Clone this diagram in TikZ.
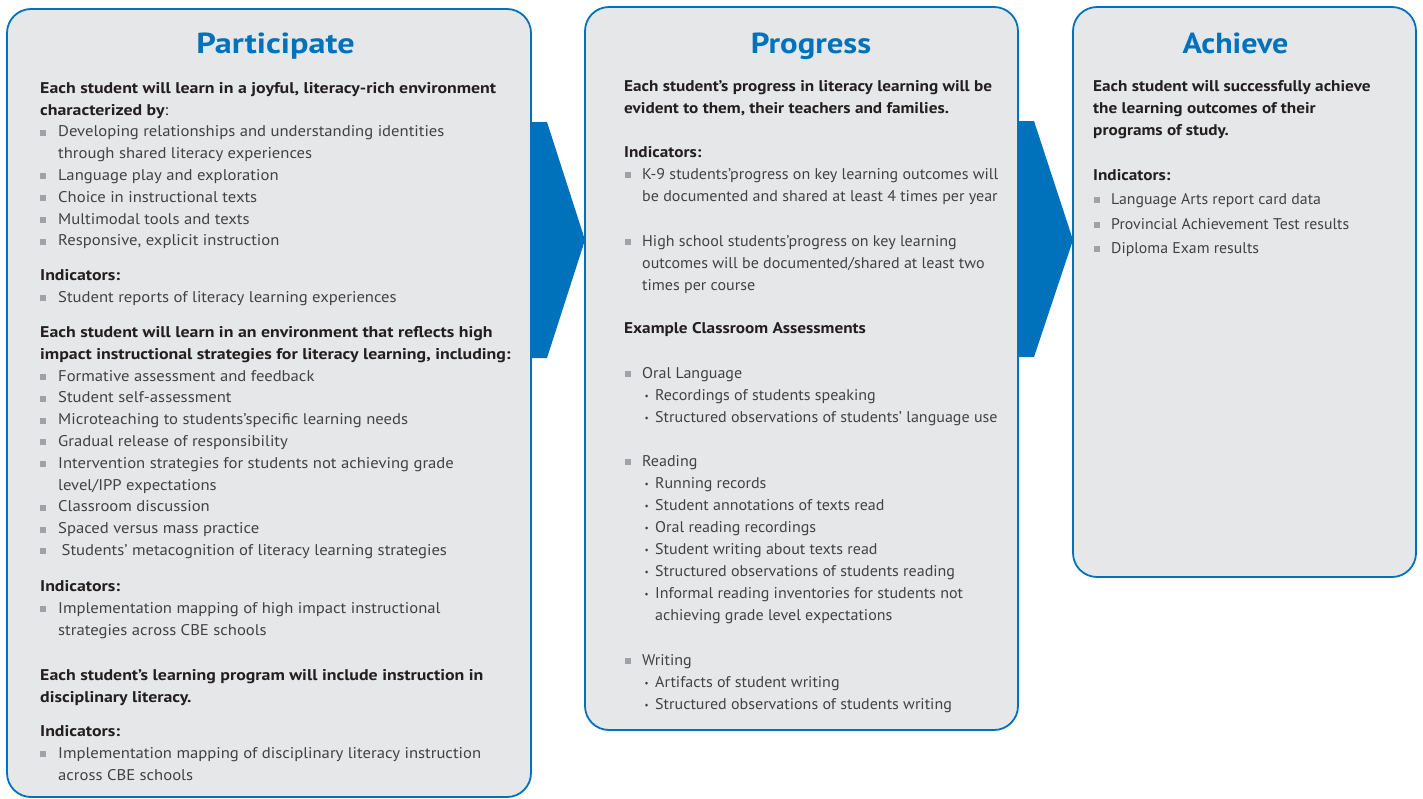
\documentclass[tikz,border=0pt]{standalone}
\usepackage{fontspec}
\setmainfont{PT Sans}
\newfontfamily\fAr{PT Sans}[FakeStretch=1.075]
\newfontfamily\fBr{PT Sans}[FakeStretch=1.035]
\newfontfamily\fCr{PT Sans}[FakeStretch=1.02]
\newfontfamily\fAb{PT Sans Bold}[FakeStretch=1.15]
\newfontfamily\fBb{PT Sans Bold}[FakeStretch=1.11]
\newfontfamily\fTa{PT Sans Bold}[FakeStretch=1.18]
\newfontfamily\fTb{PT Sans Bold}[FakeStretch=1.13]
\newfontfamily\fTc{PT Sans Bold}[FakeStretch=1.105]
\definecolor{cbeblue}{RGB}{0,114,188}
\definecolor{panelgray}{RGB}{230,231,232}
\definecolor{bodyc}{RGB}{66,66,68}
\definecolor{headc}{RGB}{35,31,32}
\definecolor{bulletgray}{RGB}{160,162,165}
\tikzset{
  panel/.style={draw=cbeblue, line width=1.8pt, fill=panelgray, rounded corners=24pt, inner sep=0pt, outer sep=0pt, anchor=north west},
  chev/.style={fill=cbeblue},
  ttl/.style={text=cbeblue, anchor=base, inner sep=0pt},
  hdA/.style={font=\fAb\fontsize{15.5}{18}\selectfont, text=headc, anchor=base west, inner sep=0pt},
  hdB/.style={font=\fBb\fontsize{15.5}{18}\selectfont, text=headc, anchor=base west, inner sep=0pt},
  txA/.style={font=\fAr\fontsize{15.5}{18}\selectfont, text=bodyc, anchor=base west, inner sep=0pt},
  txB/.style={font=\fBr\fontsize{15.5}{18}\selectfont, text=bodyc, anchor=base west, inner sep=0pt},
  txC/.style={font=\fCr\fontsize{15.5}{18}\selectfont, text=bodyc, anchor=base west, inner sep=0pt},
  sqb/.style={fill=bulletgray, minimum size=6pt, inner sep=0pt, outer sep=0pt, yshift=0.9pt},
  dotb/.style={circle, fill=bodyc, minimum size=3pt, inner sep=0pt}
}
\begin{document}
\begin{tikzpicture}[x=1pt,y=-1pt]
\useasboundingbox (0,0) rectangle (1423,798);
% panels
\node[panel, minimum width=524pt, minimum height=788pt] (P) at (7,9) {};
\node[panel, minimum width=433pt, minimum height=723pt] (Q) at (585,7) {};
\node[panel, minimum width=343pt, minimum height=570pt] (R) at (1073,7) {};
% chevrons
\coordinate (a1t) at (P.east |- 0,122);
\coordinate (a1b) at (P.east |- 0,358);
\coordinate (a1tip) at (Q.west |- 0,240);
\fill[chev] (a1t) -- (547,122) -- (a1tip) -- (547,358) -- (a1b) -- cycle;
\coordinate (a2t) at (Q.east |- 0,121);
\coordinate (a2b) at (Q.east |- 0,357);
\coordinate (a2tip) at (R.west |- 0,240);
\fill[chev] (a2t) -- (1034,121) -- (a2tip) -- (1034,357) -- (a2b) -- cycle;
% titles
\node[ttl, font=\fTa\fontsize{29}{30}\selectfont] (tP) at (275.5,53.5) {Participate};
\node[ttl, font=\fTb\fontsize{29}{30}\selectfont] (tQ) at (811,53.5) {Progress};
\node[ttl, font=\fTc\fontsize{29}{30}\selectfont] (tR) at (1235.5,53) {Achieve};

% ---------- Participate ----------
\node[hdA] (p1) at (40,93.3) {Each student will learn in a joyful, literacy-rich environment};
\node[hdA] (p2) at (40,115.1) {characterized by{\fAr:}};
\node[sqb] (s1) at (42.5,133.6) {}; \node[txA] (p3) at (58,136.9) {Developing relationships and understanding identities};
\node[txA] (p4) at (58,158.7) {through shared literacy experiences};
\node[sqb] (s2) at (42.5,177.2) {}; \node[txA] (p5) at (58,180.5) {Language play and exploration};
\node[sqb] (s3) at (42.5,199.0) {}; \node[txA] (p6) at (58,202.3) {Choice in instructional texts};
\node[sqb] (s4) at (42.5,220.8) {}; \node[txA] (p7) at (58,224.1) {Multimodal tools and texts};
\node[sqb] (s5) at (42.5,242.6) {}; \node[txA] (p8) at (58,245.9) {Responsive, explicit instruction};
\node[hdA] (p9) at (40,280.5) {Indicators:};
\node[sqb] (s6) at (42.5,299.0) {}; \node[txA] (p10) at (58,302.3) {Student reports of literacy learning experiences};
\node[hdA] (p11) at (40,337.5) {Each student will learn in an environment that reflects high};
\node[hdA] (p12) at (40,359.3) {impact instructional strategies for literacy learning, including:};
\node[sqb] (s7) at (42.5,377.8) {}; \node[txA] (p13) at (58,381.1) {Formative assessment and feedback};
\node[sqb] (s8) at (42.5,399.6) {}; \node[txA] (p14) at (58,402.9) {Student self-assessment};
\node[sqb] (s9) at (42.5,421.4) {}; \node[txA] (p15) at (58,424.7) {Microteaching to students’specific learning needs};
\node[sqb] (s10) at (42.5,443.2) {}; \node[txA] (p16) at (58,446.5) {Gradual release of responsibility};
\node[sqb] (s11) at (42.5,465.0) {}; \node[txA] (p17) at (58,468.3) {Intervention strategies for students not achieving grade};
\node[txA] (p18) at (58,490.1) {level/IPP expectations};
\node[sqb] (s12) at (42.5,508.6) {}; \node[txA] (p19) at (58,511.9) {Classroom discussion};
\node[sqb] (s13) at (42.5,530.4) {}; \node[txA] (p20) at (58,533.7) {Spaced versus mass practice};
\node[sqb] (s14) at (42.5,552.2) {}; \node[txA] (p21) at (61.5,555.5) {Students’ metacognition of literacy learning strategies};
\node[hdA] (p22) at (40,591.5) {Indicators:};
\node[sqb] (s15) at (42.5,610.0) {}; \node[txA] (p23) at (58,613.3) {Implementation mapping of high impact instructional};
\node[txA] (p24) at (58,635.1) {strategies across CBE schools};
\node[hdA] (p25) at (40,680.5) {Each student’s learning program will include instruction in};
\node[hdA] (p26) at (40,702.3) {disciplinary literacy.};
\node[hdA] (p27) at (40,736.5) {Indicators:};
\node[sqb] (s16) at (42.5,755.0) {}; \node[txA] (p28) at (58,758.3) {Implementation mapping of disciplinary literacy instruction};
\node[txA] (p29) at (58,780.1) {across CBE schools};

% ---------- Progress ----------
\node[hdB] (q1) at (624,91.5) {Each student’s progress in literacy learning will be};
\node[hdB] (q2) at (624,113.3) {evident to them, their teachers and families.};
\node[hdB] (q3) at (624,157.5) {Indicators:};
\node[sqb] (t1) at (627.5,176.0) {}; \node[txB] (q4) at (642,179.3) {K-9 students’progress on key learning outcomes will};
\node[txB] (q5) at (642,201.1) {be documented and shared at least 4 times per year};
\node[sqb] (t2) at (627.5,243.2) {}; \node[txB] (q6) at (642,246.5) {High school students’progress on key learning};
\node[txB] (q7) at (642,268.3) {outcomes will be documented/shared at least two};
\node[txB] (q8) at (642,290.1) {times per course};
\node[hdB] (q9) at (624,333.5) {Example Classroom Assessments};
\node[sqb] (t3) at (627.5,374.7) {}; \node[txB] (q10) at (642,378) {Oral Language};
\node[dotb] (d1) at (646.5,396) {}; \node[txB] (q11) at (655,400) {Recordings of students speaking};
\node[dotb] (d2) at (646.5,418) {}; \node[txB] (q12) at (655,422) {Structured observations of students’ language use};
\node[sqb] (t4) at (627.5,462.7) {}; \node[txB] (q13) at (642,466) {Reading};
\node[dotb] (d3) at (646.5,484) {}; \node[txB] (q14) at (655,488) {Running records};
\node[dotb] (d4) at (646.5,506) {}; \node[txB] (q15) at (655,510) {Student annotations of texts read};
\node[dotb] (d5) at (646.5,528) {}; \node[txB] (q16) at (655,532) {Oral reading recordings};
\node[dotb] (d6) at (646.5,550) {}; \node[txB] (q17) at (655,554) {Student writing about texts read};
\node[dotb] (d7) at (646.5,572) {}; \node[txB] (q18) at (655,576) {Structured observations of students reading};
\node[dotb] (d8) at (646.5,594) {}; \node[txB] (q19) at (655,598) {Informal reading inventories for students not};
\node[txB] (q20) at (655,620) {achieving grade level expectations};
\node[sqb] (t5) at (627.5,661.7) {}; \node[txB] (q21) at (642,665) {Writing};
\node[dotb] (d9) at (646.5,683) {}; \node[txB] (q22) at (655,687) {Artifacts of student writing};
\node[dotb] (d10) at (646.5,705) {}; \node[txB] (q23) at (655,709) {Structured observations of students writing};

% ---------- Achieve ----------
\node[hdB] (r1) at (1093,91.5) {Each student will successfully achieve};
\node[hdB] (r2) at (1093,113.3) {the learning outcomes of their};
\node[hdB] (r3) at (1093,135.1) {programs of study.};
\node[hdB] (r4) at (1093,180.5) {Indicators:};
\node[sqb] (u1) at (1097,201.2) {}; \node[txC] (r5) at (1111,204.5) {Language Arts report card data};
\node[sqb] (u2) at (1097,225.7) {}; \node[txC] (r6) at (1111,229) {Provincial Achievement Test results};
\node[sqb] (u3) at (1097,250.2) {}; \node[txC] (r7) at (1111,253.5) {Diploma Exam results};
\end{tikzpicture}
\end{document}
